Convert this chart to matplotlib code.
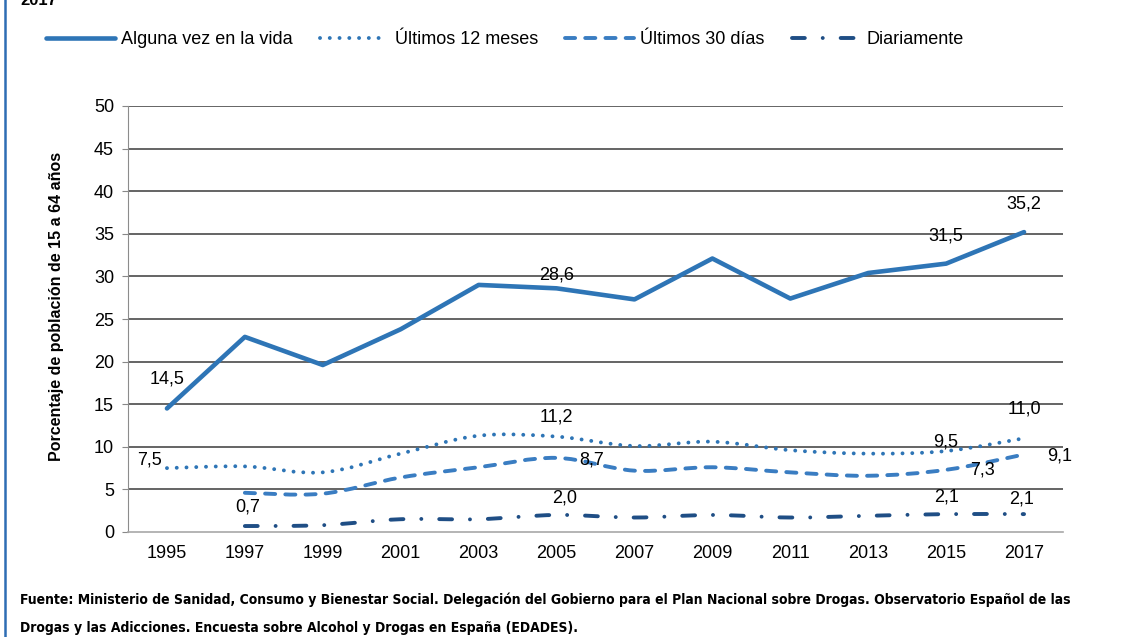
import matplotlib
matplotlib.use("Agg")
import matplotlib.pyplot as plt
import numpy as np
from matplotlib.path import Path
from matplotlib.patches import PathPatch
from matplotlib.lines import Line2D
from matplotlib import font_manager

plt.rcParams['font.family'] = ['Liberation Sans', 'DejaVu Sans']

years = ['1995', '1997', '1999', '2001', '2003', '2005', '2007', '2009', '2011', '2013', '2015', '2017']
vida = [14.5, 22.9, 19.6, 23.8, 29.0, 28.6, 27.3, 32.1, 27.4, 30.4, 31.5, 35.2]
meses12 = [7.5, 7.7, 7.0, 9.2, 11.3, 11.2, 10.1, 10.6, 9.6, 9.2, 9.5, 11.0]
dias30 = [None, 4.6, 4.5, 6.4, 7.6, 8.7, 7.2, 7.6, 7.0, 6.6, 7.3, 9.1]
diario = [None, 0.7, 0.8, 1.5, 1.5, 2.0, 1.7, 2.0, 1.7, 1.9, 2.1, 2.1]

# which points get a value label, and where (offset in px from the point)
lab_vida = {0: (0, 29), 5: (0, 13), 10: (0, 28), 11: (0, 28)}
lab_12 = {0: (-17, 8), 5: (0, 20), 10: (0, 9), 11: (0, 29)}
lab_30 = {5: (35, -2), 10: (36, 0), 11: (36, -2)}
lab_dia = {1: (3, 19), 5: (8, 17), 10: (0, 17), 11: (-2, 15)}

c_vida = '#2E75B6'
c_12 = '#2E75B6'
c_30 = '#3A7DC2'
c_dia = '#1F4E85'


def smooth_path(xs, ys):
    # bezier curve through the points, like a spreadsheet "smoothed line"
    p = np.column_stack([xs, ys]).astype(float)
    n = len(p)
    verts = [p[0]]
    codes = [Path.MOVETO]
    for i in range(n - 1):
        p0 = p[i - 1] if i > 0 else p[i]
        p3 = p[i + 2] if i + 2 < n else p[i + 1]
        c1 = p[i] + (p[i + 1] - p0) / 6.0
        c2 = p[i + 1] - (p3 - p[i]) / 6.0
        verts += [c1, c2, p[i + 1]]
        codes += [Path.CURVE4] * 3
    return Path(verts, codes)


def series_xy(vals):
    xs = [i for i, v in enumerate(vals) if v is not None]
    ys = [v for v in vals if v is not None]
    return xs, ys


fig = plt.figure(figsize=(11.27, 6.37), dpi=100)
ax = fig.add_axes([128 / 1127, 1 - 532 / 637, 935 / 1127, 426 / 637])

ax.set_xlim(-0.5, 11.5)
ax.set_ylim(0, 50)
ax.set_yticks(np.arange(0, 51, 5))
ax.set_xticks(range(len(years)))
ax.set_xticklabels(years)
ax.tick_params(axis='y', length=4, width=0.8, color='#888888', pad=6, labelsize=13)
ax.tick_params(axis='x', length=0, pad=9, labelsize=13)
for y in range(5, 51, 5):
    ax.axhline(y, color='#3a3a3a', lw=1.1, zorder=1)
for s in ['top', 'right']:
    ax.spines[s].set_visible(False)
ax.spines['left'].set_color('#8c8c8c')
ax.spines['bottom'].set_color('#a8a8a8')
ax.spines['bottom'].set_linewidth(1.2)
ax.set_ylabel('Porcentaje de población de 15 a 64 años', fontsize=11.5,
              fontweight='bold')
ax.yaxis.set_label_coords(-0.068, 0.53)

# lifetime: straight segments
xs, ys = series_xy(vida)
ax.plot(xs, ys, color=c_vida, lw=3.3, solid_capstyle='round', zorder=5)

# the other three are smoothed
dot_ls = (0, (0.01, 2.5))
dash_ls = (0, (2.6, 2.6))
dashdot_ls = (0, (3.3, 4.6, 0.01, 4.6))
xs, ys = series_xy(meses12)
ax.add_patch(PathPatch(smooth_path(xs, ys), fill=False, edgecolor=c_12, lw=2.8,
                       linestyle=dot_ls, capstyle='round', zorder=4))
xs, ys = series_xy(dias30)
ax.add_patch(PathPatch(smooth_path(xs, ys), fill=False, edgecolor=c_30, lw=2.8,
                       linestyle=dash_ls, capstyle='round', zorder=4))
xs, ys = series_xy(diario)
ax.add_patch(PathPatch(smooth_path(xs, ys), fill=False, edgecolor=c_dia, lw=2.8,
                       linestyle=dashdot_ls, capstyle='round', zorder=4))


def fmt(v):
    return ('%.1f' % v).replace('.', ',')


for vals, labs in [(vida, lab_vida), (meses12, lab_12), (dias30, lab_30), (diario, lab_dia)]:
    for i, (dx, dy) in labs.items():
        ax.annotate(fmt(vals[i]), (i, vals[i]), xytext=(dx * 0.72, dy * 0.72),
                    textcoords='offset points', ha='center', va='center',
                    fontsize=13, zorder=6)

handles = [
    Line2D([], [], color=c_vida, lw=3.3, solid_capstyle='round'),
    Line2D([], [], color=c_12, lw=2.8, linestyle=dot_ls, dash_capstyle='round'),
    Line2D([], [], color=c_30, lw=2.8, linestyle=dash_ls, dash_capstyle='round'),
    Line2D([], [], color=c_dia, lw=2.8, linestyle=dashdot_ls, dash_capstyle='round'),
]
names = ['Alguna vez en la vida', 'Últimos 12 meses', 'Últimos 30 días', 'Diariamente']
fig.legend(handles, names, loc='center left', bbox_to_anchor=(30 / 1127, 1 - 40 / 637),
           ncol=4, frameon=False, fontsize=13, handlelength=3.8, handletextpad=0.35,
           columnspacing=1.5)

# source note, in a narrow bold face
note_font = font_manager.FontProperties(family='DejaVu Sans', weight='bold',
                                        stretch='condensed', size=10)
note1 = ('Fuente: Ministerio de Sanidad, Consumo y Bienestar Social. Delegación del Gobierno para el Plan '
         'Nacional sobre Drogas. Observatorio Español de las')
note2 = 'Drogas y las Adicciones. Encuesta sobre Alcohol y Drogas en España (EDADES).'
t1 = fig.text(20 / 1127, 1 - 600 / 637, note1, fontproperties=note_font, va='center', ha='left')
t2 = fig.text(20 / 1127, 1 - 628 / 637, note2, fontproperties=note_font, va='center', ha='left')

# shrink the note until the first line fits the width
fig.canvas.draw()
r = fig.canvas.get_renderer()
w = t1.get_window_extent(r).width
if w > 1057:
    s = 10 * 1057 / w
    t1.set_fontsize(s)
    t2.set_fontsize(s)

# title line running off the top edge
fig.text(20 / 1127, 1 - 5 / 637, '2017', fontsize=12, fontweight='bold', va='baseline')

# left frame rule
fig.add_artist(Line2D([5 / 1127, 5 / 1127], [0, 1], color='#2E6DB4', lw=1.8,
                      transform=fig.transFigure))

fig.savefig('out.png', dpi=100)
